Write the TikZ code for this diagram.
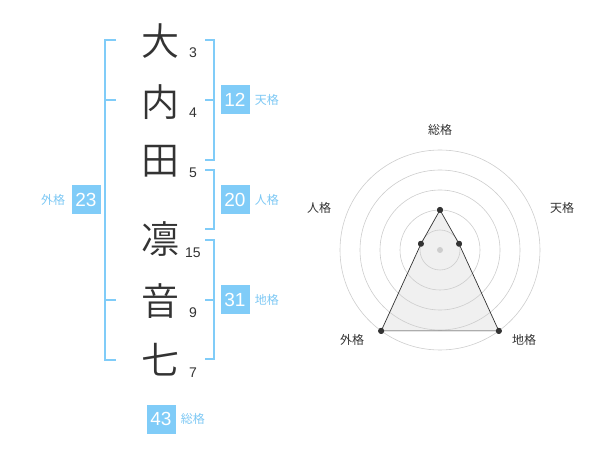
\documentclass[tikz,border=0pt]{standalone}
\usepackage{fontspec}
\setmainfont{Liberation Sans}
\newfontfamily\jpfont{Noto Sans CJK JP}
\IfFontExistsTF{Noto Sans CJK JP DemiLight}
     {\newfontfamily\jpbig{Noto Sans CJK JP DemiLight}}
     {\newfontfamily\jpbig{Noto Sans CJK JP}}
\usetikzlibrary{positioning}
\definecolor{kakublue}{RGB}{128,204,248}
\definecolor{kakutext}{RGB}{125,200,244}
\definecolor{inkgray}{RGB}{51,51,51}
\definecolor{ringgray}{RGB}{205,205,205}
\definecolor{areagray}{RGB}{240,240,240}

\begin{document}
\begin{tikzpicture}[x=1pt,y=-1pt]
          %% SEIMEI HANDAN

          \tikzstyle{kanji}=[text=inkgray,font=\jpbig\fontsize{38}{38}\selectfont,inner sep=0pt]
          \tikzstyle{strokes}=[text=inkgray,font=\fontsize{14}{14}\selectfont,inner sep=0pt]
          \tikzstyle{bracket}=[draw=kakublue,line width=2pt]
          \tikzstyle{kakubox}=[fill=kakublue,text=white,minimum size=29pt,inner sep=0pt,font=\fontsize{19}{19}\selectfont]
          \tikzstyle{kakuname}=[text=kakutext,font=\jpfont\fontsize{12}{12}\selectfont,inner sep=0pt]
          \tikzstyle{axis}=[text=inkgray,font=\jpfont\fontsize{12}{12}\selectfont,inner sep=0pt]
          \tikzstyle{ring}=[draw=ringgray,line width=0.6pt]
          \tikzstyle{dot}=[circle,fill=inkgray,inner sep=0pt,minimum size=6pt]

          \useasboundingbox (0,0) rectangle (600,470);

          % le nom
          \node[kanji] (K1) at (160,41) {大};
          \node[kanji] (K2) at (160,102) {内};
          \node[kanji] (K3) at (160,161) {田};
          \node[kanji] (K4) at (160,239) {凛};
          \node[kanji] (K5) at (160,301) {音};
          \node[kanji] (K6) at (160,360) {七};

          % nombre de traits
          \node[strokes] (N1) at (193,53) {3};
          \node[strokes] (N2) at (193,113) {4};
          \node[strokes] (N3) at (193,173) {5};
          \node[strokes] (N4) at (193,253) {15};
          \node[strokes] (N5) at (193,313) {9};
          \node[strokes] (N6) at (193,373) {7};

          % crochets
          \draw[bracket] (116,40) -- (105,40) -- (105,360) -- (116,360);
          \draw[bracket] (105,100) -- (116,100);
          \draw[bracket] (105,300) -- (116,300);
          \draw[bracket] (205,40) -- (214,40) -- (214,160) -- (205,160);
          \draw[bracket] (205,100) -- (214,100);
          \draw[bracket] (205,170) -- (214,170) -- (214,229) -- (205,229);
          \draw[bracket] (205,240) -- (214,240) -- (214,359) -- (205,359);
          \draw[bracket] (205,300) -- (214,300);

          % les cases
          \node[kakubox] (B12) at (235,100) {12};
          \node[kakuname,right=5pt of B12] (L12) {天格};
          \node[kakubox] (B20) at (235,200) {20};
          \node[kakuname,right=5pt of B20] (L20) {人格};
          \node[kakubox] (B31) at (235,300) {31};
          \node[kakuname,right=5pt of B31] (L31) {地格};
          \node[kakubox] (B23) at (86,200) {23};
          \node[kakuname,left=6pt of B23] (L23) {外格};
          \node[kakubox] (B43) at (161,419) {43};
          \node[kakuname,right=5pt of B43] (L43) {総格};

          % radar
          \coordinate (C) at (440,250);
          \node[dot] (Psou) at (440,210) {};
          \node[dot] (Pten) at (459,243.8) {};
          \node[dot] (Pchi) at (498.8,330.9) {};
          \node[dot] (Pgai) at (381.2,330.9) {};
          \node[dot] (Pjin) at (421,243.8) {};
          \fill[areagray] (Psou.center) -- (Pten.center) -- (Pchi.center) -- (Pgai.center) -- (Pjin.center) -- cycle;
          \foreach \r in {20,40,60,80,100}
               \draw[ring] (C) circle (\r pt);
          \fill[ringgray] (C) circle (3pt);
          \draw[inkgray,line width=0.7pt] (Psou.center) -- (Pten.center) -- (Pchi.center) -- (Pgai.center) -- (Pjin.center) -- cycle;
          \foreach \p in {Psou,Pten,Pchi,Pgai,Pjin}
               \fill[inkgray] (\p) circle (3pt);

          \node[axis] (Asou) at (440,130) {総格};
          \node[axis] (Aten) at (562,208) {天格};
          \node[axis] (Ajin) at (319,208) {人格};
          \node[axis] (Agai) at (352,340) {外格};
          \node[axis] (Achi) at (524,340) {地格};
          \end{tikzpicture}
\end{document}
